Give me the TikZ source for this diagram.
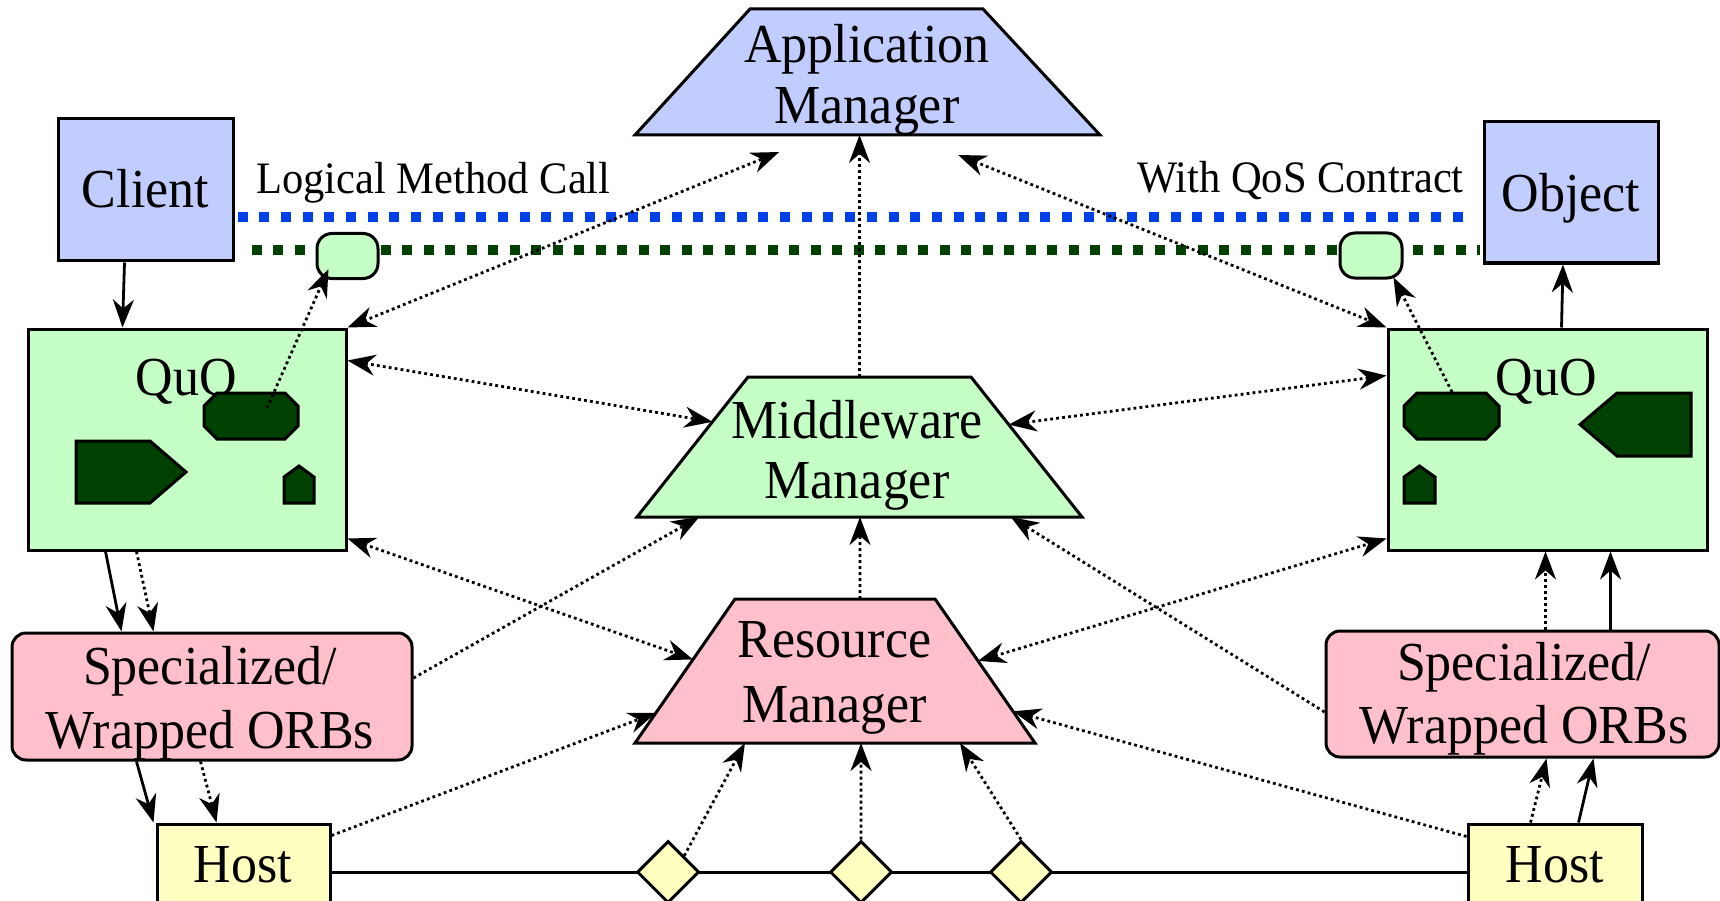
\documentclass[tikz,border=0pt]{standalone}
\usepackage{fontspec}
\setmainfont{Liberation Serif}[FakeStretch=0.945]
\usetikzlibrary{arrows.meta,calc,shapes.geometric,backgrounds}

\definecolor{bluefill}{RGB}{194,205,255}
\definecolor{greenfill}{RGB}{198,255,198}
\definecolor{pinkfill}{RGB}{255,192,203}
\definecolor{yellowfill}{RGB}{255,255,192}
\definecolor{darkgreen}{RGB}{0,64,0}
\definecolor{dashblue}{RGB}{0,64,230}

\newcommand{\mainsize}{\fontsize{55}{61}\selectfont}
\newcommand{\labelsize}{\fontsize{45}{50}\selectfont}

\begin{document}
\begin{tikzpicture}[x=1pt,y=-1pt,
  >={Stealth[length=28pt,width=21pt,inset=9pt]},
  frame/.style={draw, line width=3pt, inner sep=0pt},
  txt/.style={inner sep=0pt, font=\mainsize},
  lbl/.style={inner sep=0pt, font=\labelsize},
  solidarrow/.style={line width=2.8pt, ->},
  dotarrow/.style={line width=2.8pt, dash pattern=on 2.8pt off 3.2pt, ->},
  dotboth/.style={dotarrow, <->},
  bodyshape/.style={draw, line width=3pt, fill=darkgreen},
  trap/.style={draw, line width=3pt, line join=miter},
]
\useasboundingbox (0,0) rectangle (1720,901);
\clip (0,0) rectangle (1720,901);

% ---------- client / object ----------
\node[frame, fill=bluefill, minimum width=175pt, minimum height=142pt] (client) at (145.5,190) {};
\node[txt, anchor=base] (clientT) at (145.5,208) {Client};
\node[frame, fill=bluefill, minimum width=174pt, minimum height=141pt] (object) at (1571,192.5) {};
\node[txt, anchor=base] (objectT) at (1571,212) {Object};

% ---------- QuO boxes ----------
\node[frame, fill=greenfill, minimum width=318pt, minimum height=221pt] (quoL) at (187,439.5) {};
\node[txt, anchor=base] (quoLT) at (186.5,395) {QuO};
\node[frame, fill=greenfill, minimum width=319pt, minimum height=221pt] (quoR) at (1547.5,439.5) {};
\node[txt, anchor=base] (quoRT) at (1546.5,395) {QuO};

% contract regions inside the left QuO
\draw[bodyshape] (217,393) -- (285,393) -- (298,406) -- (298,426) -- (285,439)
  -- (217,439) -- (204,426) -- (204,406) -- cycle;
\coordinate (octL) at (267,408);
\draw[bodyshape] (76,441) -- (150,441) -- (186,472) -- (150,503) -- (76,503) -- cycle;
\draw[bodyshape] (284,503) -- (284,477) -- (299,466) -- (314,477) -- (314,503) -- cycle;

% contract regions inside the right QuO
\draw[bodyshape] (1417,393) -- (1486,393) -- (1499,406) -- (1499,426) -- (1486,439)
  -- (1417,439) -- (1404,426) -- (1404,406) -- cycle;
\coordinate (octR) at (1452,392);
\draw[bodyshape] (1691,393) -- (1617,393) -- (1580,424.5) -- (1617,456) -- (1691,456) -- cycle;
\draw[bodyshape] (1404,503) -- (1404,477) -- (1419.5,466) -- (1435,477) -- (1435,503) -- cycle;

% ---------- ORBs ----------
\node[frame, rounded corners=14pt, fill=pinkfill, minimum width=400pt, minimum height=127pt] (orbL) at (212,696.5) {};
\node[txt, align=center, font=\fontsize{55}{64}\selectfont] (orbLT) at (210,703.2) {Specialized/\\Wrapped ORBs};
\node[frame, rounded corners=14pt, fill=pinkfill, minimum width=393pt, minimum height=126pt] (orbR) at (1522.5,694) {};
\node[txt, align=center, font=\fontsize{55}{63}\selectfont] (orbRT) at (1524,698.7) {Specialized/\\Wrapped ORBs};

% ---------- hosts and network ----------
\node[frame, fill=yellowfill, minimum width=173pt, minimum height=96pt] (hostL) at (243.5,872) {};
\node[txt, anchor=base] (hostLT) at (243,882) {Host};
\node[frame, fill=yellowfill, minimum width=174pt, minimum height=96pt] (hostR) at (1555,872) {};
\node[txt, anchor=base] (hostRT) at (1555,882) {Host};

\node[frame, diamond, fill=yellowfill, minimum width=62pt, minimum height=62pt] (dmd1) at (668,872) {};
\node[frame, diamond, fill=yellowfill, minimum width=62pt, minimum height=62pt] (dmd2) at (861,872) {};
\node[frame, diamond, fill=yellowfill, minimum width=62pt, minimum height=62pt] (dmd3) at (1021,872) {};

% ---------- QoS contract markers ----------
\node[frame, rounded corners=15pt, fill=greenfill, minimum width=61pt, minimum height=45pt] (pillL) at (347.5,256) {};
\node[frame, rounded corners=15pt, fill=greenfill, minimum width=62pt, minimum height=45pt] (pillR) at (1371,255.5) {};

% ---------- managers ----------
\coordinate (appTL) at (750,9);   \coordinate (appTR) at (983,9);
\coordinate (appBR) at (1100,135); \coordinate (appBL) at (635,135);
\draw[trap, fill=bluefill] (appTL) -- (appTR) -- (appBR) -- (appBL) -- cycle;
\node[txt, align=center, font=\fontsize{55}{61}\selectfont] (app) at (867,79.7) {Application\\Manager};

\coordinate (midTL) at (748,377);  \coordinate (midTR) at (971,377);
\coordinate (midBR) at (1082,517); \coordinate (midBL) at (637,517);
\draw[trap, fill=greenfill] (midTL) -- (midTR) -- (midBR) -- (midBL) -- cycle;
\node[txt, align=center, font=\fontsize{55}{60}\selectfont] (mid) at (857,455.2) {Middleware\\Manager};

\coordinate (resTL) at (735,599);  \coordinate (resTR) at (935,599);
\coordinate (resBR) at (1035,743); \coordinate (resBL) at (635,743);
\draw[trap, fill=pinkfill] (resTL) -- (resTR) -- (resBR) -- (resBL) -- cycle;
\node[txt, align=center, font=\fontsize{55}{65}\selectfont] (res) at (834.5,678.3) {Resource\\Manager};

% ---------- labels ----------
\node[lbl, anchor=base west] (lmc) at (256,194) {Logical Method Call};
\node[lbl, anchor=base east] (qos) at (1464,193) {With QoS Contract};

% ---------- background lines ----------
\begin{scope}[on background layer]
  \draw[dashblue, line width=10pt, dash pattern=on 10pt off 11.7pt]
    ($(client.east)+(3,27)$) -- ($(object.west)+(-16,24.5)$);
  \draw[darkgreen, line width=10pt, dash pattern=on 10pt off 11.5pt]
    ($(client.south east)+(17,-12.5)$) -- ($(object.south west)+(-3,-14.5)$);
  \draw[line width=3pt] (hostL.east) -- (hostR.west);
\end{scope}

% ---------- connectors ----------
% invocation path
\draw[solidarrow] ($(client.south)+(-21,0)$) -- ($(quoL.north west)+(96,0)$);
\draw[solidarrow] ($(quoR.north west)+(175,0)$) -- ($(object.south)+(-8,0)$);
\draw[solidarrow] ($(quoL.south west)+(79,0)$) -- ($(orbL.north west)+(111,0)$);
\draw[dotarrow]   ($(quoL.south west)+(110,0)$) -- ($(orbL.north west)+(143,0)$);
\draw[solidarrow] ($(orbL.south west)+(126,0)$) -- ($(hostL.north west)+(-2,0)$);
\draw[dotarrow]   ($(orbL.south west)+(190,0)$) -- ($(hostL.north west)+(61,0)$);
\draw[dotarrow]   ($(orbR.north west)+(221,0)$) -- ($(quoR.south west)+(159,0)$);
\draw[solidarrow] ($(orbR.north west)+(286,0)$) -- ($(quoR.south west)+(224,0)$);
\draw[dotarrow]   ($(hostR.north west)+(64,0)$) -- ($(orbR.south west)+(222,0)$);
\draw[solidarrow] ($(hostR.north west)+(112,0)$) -- ($(orbR.south west)+(269,0)$);

% contract regions to markers
\draw[dotarrow] (octL) -- ($(pillL.south west)+(13,-11)$);
\draw[dotarrow] (octR) -- ($(pillR.south east)+(-10,-2)$);

% manager interactions
\draw[dotboth] (quoL.north east) -- ($(appBL)!0.31!(appBR)+(0,17)$);
\draw[dotboth] ($(appBL)!0.695!(appBR)+(0,20)$) -- (quoR.north west);
\draw[dotarrow] ($(midTL)!0.5!(midTR)$) -- ($(appBL)!0.4828!(appBR)$);
\draw[dotboth] ($(quoL.north east)+(0,33)$) -- ($(midTL)!0.32!(midBL)$);
\draw[dotboth] ($(midTR)!0.34!(midBR)$) -- ($(quoR.north west)+(0,48)$);
\draw[dotboth] ($(quoL.south east)+(0,-13)$) -- ($(resTL)!0.42!(resBL)$);
\draw[dotboth] ($(resTR)!0.43!(resBR)$) -- ($(quoR.south west)+(0,-13)$);
\draw[dotarrow] ($(orbL.east)+(0,-18.5)$) -- ($(midBL)!0.14!(midBR)$);
\draw[dotarrow] ($(orbR.west)+(0,18)$) -- ($(midBL)!0.84!(midBR)$);
\draw[dotarrow] ($(resTL)!0.625!(resTR)$) -- ($(midBL)!0.5011!(midBR)$);
\draw[dotarrow] ($(hostL.north east)+(0,13)$) -- ($(resTL)!0.79!(resBL)$);
\draw[dotarrow] ($(hostR.north west)+(0,14)$) -- ($(resTR)!0.78!(resBR)$);
\draw[dotarrow] (dmd1.north east) -- ($(resBL)!0.275!(resBR)$);
\draw[dotarrow] (dmd2.north) -- ($(resBL)!0.565!(resBR)$);
\draw[dotarrow] (dmd3.north) -- ($(resBL)!0.8125!(resBR)$);
\end{tikzpicture}
\end{document}
